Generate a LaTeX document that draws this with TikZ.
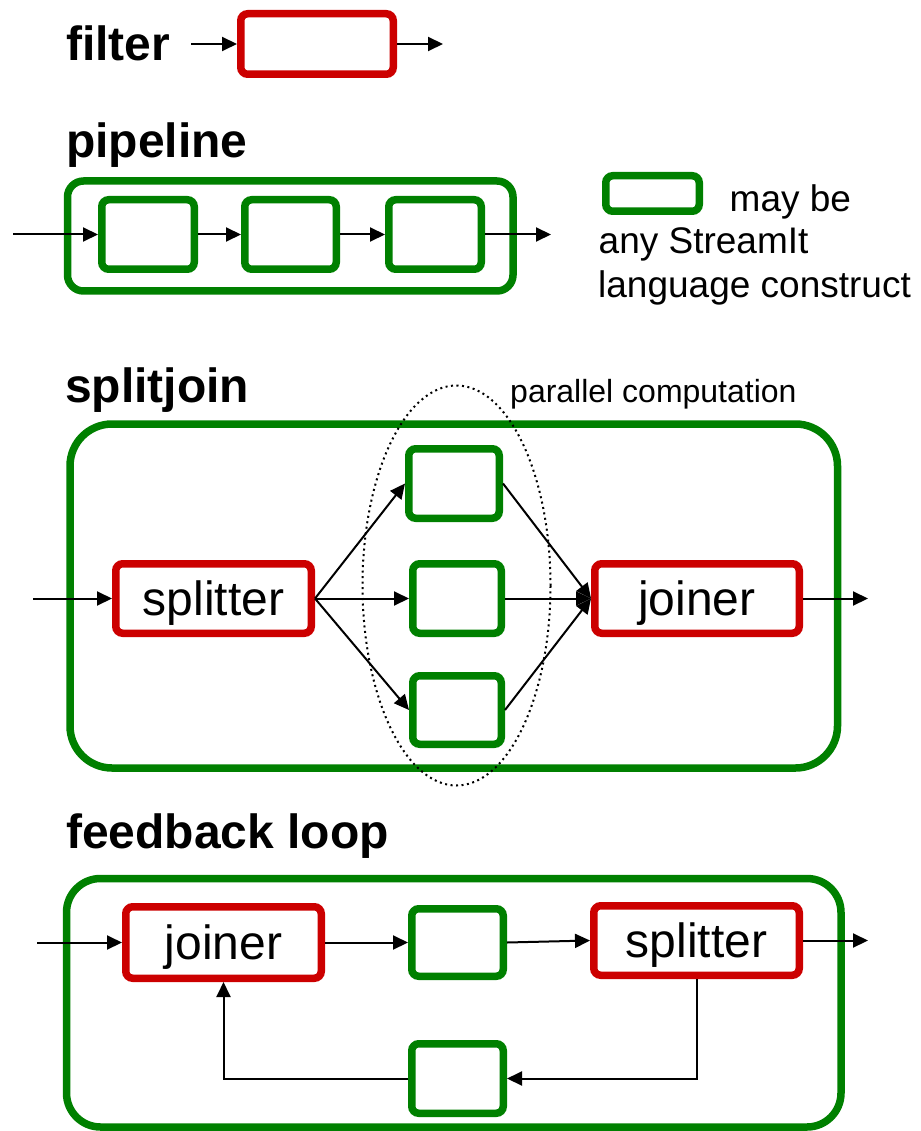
\documentclass[tikz,border=0pt]{standalone}
\usepackage{fontspec}
\setmainfont{Liberation Sans}
\usetikzlibrary{arrows.meta,shapes.geometric}
\definecolor{sred}{RGB}{204,0,0}
\definecolor{sgreen}{RGB}{0,128,0}
\begin{document}
\begin{tikzpicture}[x=1pt,y=-1pt,
  box/.style={draw, line width=7.5pt, rounded corners=7pt, inner sep=0pt, fill=white},
  redbox/.style={box, draw=sred},
  grnbox/.style={box, draw=sgreen},
  outerbox/.style={draw=sgreen, line width=7.5pt, inner sep=0pt},
  lbl/.style={font=\fontsize{48}{56}\selectfont, text height=34pt, text depth=0pt},
  head/.style={font=\fontsize{48}{56}\selectfont\bfseries, anchor=base west, inner sep=0pt},
  legtext/.style={font=\fontsize{37}{44}\selectfont, anchor=base west, inner sep=0pt},
  partext/.style={font=\fontsize{32}{38}\selectfont, anchor=base west, inner sep=0pt},
  arr/.style={-{Triangle[length=15pt,width=14pt]}, line width=2pt},
  dots/.style={draw, ellipse, line width=2pt, dash pattern=on 2pt off 3.5pt, inner sep=0pt}]
\useasboundingbox (0,0) rectangle (920,1131);

% ---------- filter ----------
\node[head] (hfilter) at (66,61) {filter};
\node[redbox, minimum width=152.5pt, minimum height=60.5pt] (filt) at (317,44) {};
\coordinate (fin) at (191,44);
\coordinate (fout) at (443,44);
\draw[arr] (fin) -- (filt.west);
\draw[arr] (filt.east) -- (fout);

% ---------- pipeline ----------
\node[head] (hpipe) at (66,158) {pipeline};
\node[outerbox, rounded corners=16pt, minimum width=445.5pt, minimum height=110pt] (pipe) at (290.25,236) {};
\node[grnbox, minimum width=92.5pt, minimum height=69.5pt] (p1) at (148,234.5) {};
\node[grnbox, minimum width=91.5pt, minimum height=69.5pt] (p2) at (290.5,234.5) {};
\node[grnbox, minimum width=92.5pt, minimum height=69.5pt] (p3) at (435,234.5) {};
\coordinate (pin) at (13,234.5);
\coordinate (pout) at (551,234.5);
\draw[arr] (pin) -- (p1.west);
\draw[arr] (p1.east) -- (p2.west);
\draw[arr] (p2.east) -- (p3.west);
\draw[arr] (p3.east) -- (pout);

% ---------- legend ----------
\node[grnbox, minimum width=93.5pt, minimum height=35.5pt] (leg) at (652.5,193.5) {};
\node[legtext] (l1) at (729.5,212) {may be};
\node[legtext] (l2) at (598.5,254) {any StreamIt};
\node[legtext] (l3) at (598,298) {language construct};

% ---------- splitjoin ----------
\node[head] (hsj) at (65,402) {splitjoin};
\node[partext] (ptext) at (510,402) {parallel computation};
\node[outerbox, rounded corners=42pt, minimum width=767.5pt, minimum height=344pt] (sj) at (453.75,596) {};
\node[redbox, lbl, minimum width=195.5pt, minimum height=69.5pt] (split) at (213.5,598.5) {splitter};
\node[grnbox, minimum width=90.5pt, minimum height=69.5pt] (s1) at (454,483.5) {};
\node[grnbox, minimum width=88.5pt, minimum height=69.5pt] (s2) at (457,598.5) {};
\node[grnbox, minimum width=88.5pt, minimum height=68.5pt] (s3) at (457,710) {};
\node[redbox, lbl, minimum width=204.5pt, minimum height=69.5pt] (join) at (697,598.5) {joiner};
\node[dots, minimum width=188pt, minimum height=400pt] (par) at (456.5,585.5) {};
\coordinate (sjin) at (33,598.5);
\coordinate (sjout) at (868,598.5);
\draw[arr] (sjin) -- (split.west);
\draw[arr] (split.east) -- (s1.west);
\draw[arr] (split.east) -- (s2.west);
\draw[arr] (split.east) -- (s3.west);
\draw[arr] (s1.east) -- (join.west);
\draw[arr] (s2.east) -- (join.west);
\draw[arr] (s3.east) -- (join.west);
\draw[arr] (join.east) -- (sjout);

% ---------- feedback loop ----------
\node[head] (hfb) at (66,848) {feedback loop};
\node[outerbox, rounded corners=34pt, minimum width=774.5pt, minimum height=248.5pt] (fb) at (453.75,1002.75) {};
\node[redbox, lbl, minimum width=195.5pt, minimum height=71.5pt] (fj) at (223.5,942.5) {joiner};
\node[grnbox, minimum width=91.5pt, minimum height=67.5pt] (fm) at (457.5,942.5) {};
\node[redbox, lbl, minimum width=205.5pt, minimum height=69.5pt] (fs) at (696.5,940.5) {splitter};
\node[grnbox, minimum width=91.5pt, minimum height=69.5pt] (fbk) at (457.5,1078.5) {};
\coordinate (fbin) at (37,942.5);
\coordinate (fbout) at (868,940.5);
\draw[arr] (fbin) -- (fj.west);
\draw[arr] (fj.east) -- (fm.west);
\draw[arr] (fm.east) -- (fs.west);
\draw[arr] (fs.east) -- (fbout);
\draw[arr] (fs.south) |- (fbk.east);
\draw[arr] (fbk.west) -| (fj.south);
\end{tikzpicture}
\end{document}
